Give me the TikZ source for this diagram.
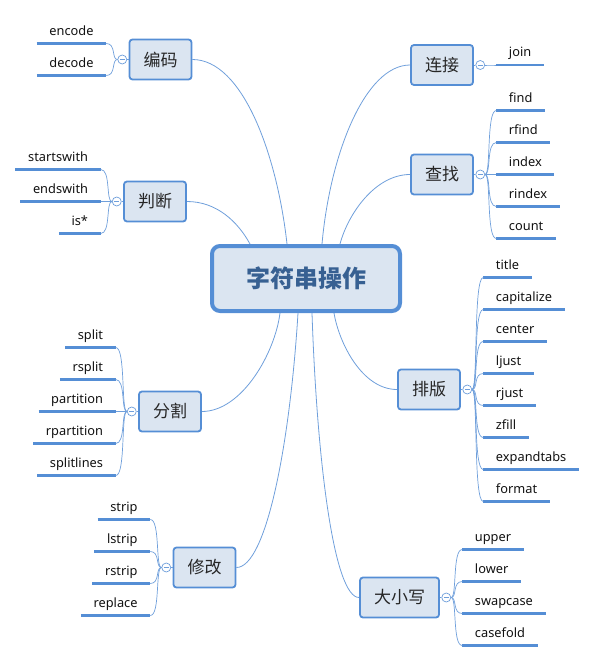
\documentclass[tikz,border=0pt]{standalone}
\usepackage{fontspec}
\setmainfont{Noto Sans}
\newfontfamily\cjk{Noto Sans CJK SC}
\usetikzlibrary{positioning,calc,backgrounds}
\definecolor{accent}{HTML}{558ED5}
\definecolor{boxbg}{HTML}{DBE5F1}
\definecolor{twigc}{HTML}{6F9FDB}
\definecolor{rootink}{HTML}{376092}
\definecolor{topicink}{HTML}{262626}
\definecolor{leafink}{HTML}{111111}
\tikzset{
  root/.style={draw=accent,line width=4pt,rounded corners=8pt,fill=boxbg,
    minimum width=188pt,minimum height=65pt,text=rootink,
    font=\cjk\bfseries\fontsize{24}{28}\selectfont},
  topic/.style={draw=accent,line width=1.8pt,rounded corners=3pt,fill=boxbg,
    minimum width=62pt,minimum height=40pt,inner xsep=6pt,text=topicink,
    font=\cjk\fontsize{17}{20}\selectfont},
  fold/.style={circle,draw=twigc,fill=white,line width=0.7pt,minimum size=9pt,inner sep=0pt,
    path picture={\draw[twigc,line width=0.7pt]
      ($(path picture bounding box.west)+(2pt,0)$)--($(path picture bounding box.east)+(-2pt,0)$);}},
  leaf/.style={font=\fontsize{12.8}{15}\selectfont,text=leafink,inner xsep=12.5pt,inner ysep=5pt,
    text height=9pt,text depth=3pt,
    append after command={(\tikzlastnode.south west) edge[leafline] (\tikzlastnode.south east)}},
  leafl/.style={leaf,anchor=south east},
  leafr/.style={leaf,anchor=south west},
  leafline/.style={draw=accent,line width=2.6pt},
  branch/.style={draw=twigc,line width=0.8pt},
  twig/.style={draw=twigc,line width=0.7pt},
}
\begin{document}
\begin{tikzpicture}[x=1pt,y=-1pt]
  \useasboundingbox (0,0) rectangle (596,663);
  % centre and the eight topics
  \node[root] (root) at (306,278.5) {字符串操作};
  \node[topic] (bm) at (160.5,59.5) {编码};
  \node[topic] (pd) at (155,201.5) {判断};
  \node[topic] (fg) at (170,411.5) {分割};
  \node[topic] (xg) at (204.5,567.5) {修改};
  \node[topic] (lj) at (442,65) {连接};
  \node[topic] (cz) at (442,174.5) {查找};
  \node[topic] (pb) at (429,389.5) {排版};
  \node[topic,minimum width=79pt] (dx) at (399.5,597.5) {大小写};
  % collapse markers
  \node[fold,left=1.5pt of bm] (bmf) {};
  \node[fold,left=1.5pt of pd] (pdf) {};
  \node[fold,left=1.5pt of fg] (fgf) {};
  \node[fold,left=1.5pt of xg] (xgf) {};
  \node[fold,right=1.5pt of lj] (ljf) {};
  \node[fold,right=1.5pt of cz] (czf) {};
  \node[fold,right=1.5pt of pb] (pbf) {};
  \node[fold,right=1.5pt of dx] (dxf) {};
  \foreach \x/\y in {bm/bmf,pd/pdf,fg/fgf,xg/xgf,lj/ljf,cz/czf,pb/pbf,dx/dxf} \draw[twig](\x)--(\y);
  % leaves, left side
  \foreach \t [count=\i] in {encode,decode}{
    \node[leafl] (bm-\i) at ($(bmf)+(-16,{32*\i-48})$) {\t};
    \draw[twig] (bmf.west) .. controls +(-6,0) and +(10,0) .. (bm-\i.south east);
  }
  \foreach \t [count=\i] in {startswith,endswith,is*}{
    \node[leafl] (pd-\i) at ($(pdf)+(-16,{32*\i-64})$) {\t};
    \draw[twig] (pdf.west) .. controls +(-6,0) and +(10,0) .. (pd-\i.south east);
  }
  \foreach \t [count=\i] in {split,rsplit,partition,rpartition,splitlines}{
    \node[leafl] (fg-\i) at ($(fgf)+(-16,{32*\i-96})$) {\t};
    \draw[twig] (fgf.west) .. controls +(-6,0) and +(10,0) .. (fg-\i.south east);
  }
  \foreach \t [count=\i] in {strip,lstrip,rstrip,replace}{
    \node[leafl] (xg-\i) at ($(xgf)+(-16,{32*\i-80})$) {\t};
    \draw[twig] (xgf.west) .. controls +(-6,0) and +(10,0) .. (xg-\i.south east);
  }
  % leaves, right side
  \foreach \t [count=\i] in {join}{
    \node[leafr] (lj-\i) at ($(ljf)+(16,{32*\i-32})$) {\t};
    \draw[twig] (ljf.east) .. controls +(6,0) and +(-10,0) .. (lj-\i.south west);
  }
  \foreach \t [count=\i] in {find,rfind,index,rindex,count}{
    \node[leafr] (cz-\i) at ($(czf)+(16,{32*\i-96})$) {\t};
    \draw[twig] (czf.east) .. controls +(6,0) and +(-10,0) .. (cz-\i.south west);
  }
  \foreach \t [count=\i] in {title,capitalize,center,ljust,rjust,zfill,expandtabs,format}{
    \node[leafr] (pb-\i) at ($(pbf)+(16,{32*\i-144})$) {\t};
    \draw[twig] (pbf.east) .. controls +(6,0) and +(-10,0) .. (pb-\i.south west);
  }
  \foreach \t [count=\i] in {upper,lower,swapcase,casefold}{
    \node[leafr] (dx-\i) at ($(dxf)+(16,{32*\i-80})$) {\t};
    \draw[twig] (dxf.east) .. controls +(6,0) and +(-10,0) .. (dx-\i.south west);
  }
  % where the branches meet the centre
  \coordinate (r-bm) at ($(root.north)+(-19,0)$);
  \coordinate (r-pd) at ($(root.north)+(-56,0)$);
  \coordinate (r-lj) at ($(root.north)+(16,0)$);
  \coordinate (r-cz) at ($(root.north)+(34,0)$);
  \coordinate (r-fg) at ($(root.south)+(-26,0)$);
  \coordinate (r-xg) at ($(root.south)+(-8,0)$);
  \coordinate (r-dx) at ($(root.south)+(6,0)$);
  \coordinate (r-pb) at ($(root.south)+(28,0)$);
  \begin{scope}[on background layer]
    \draw[branch] (bm.east) .. controls +(50,0) and +(-10,-90) .. (r-bm);
    \draw[branch] (pd.east) .. controls +(30,0) and +(-12,-22) .. (r-pd);
    \draw[branch] (lj.west) .. controls +(-45,0) and +(8,-90) .. (r-lj);
    \draw[branch] (cz.west) .. controls +(-35,0) and +(8,-30) .. (r-cz);
    \draw[branch] (fg.east) .. controls +(40,0) and +(-5,40) .. (r-fg);
    \draw[branch] (xg.east) .. controls +(30,0) and +(-8,130) .. (r-xg);
    \draw[branch] (dx.west) .. controls +(-25,0) and +(5,150) .. (r-dx);
    \draw[branch] (pb.west) .. controls +(-35,0) and +(5,30) .. (r-pb);
  \end{scope}
\end{tikzpicture}
\end{document}
